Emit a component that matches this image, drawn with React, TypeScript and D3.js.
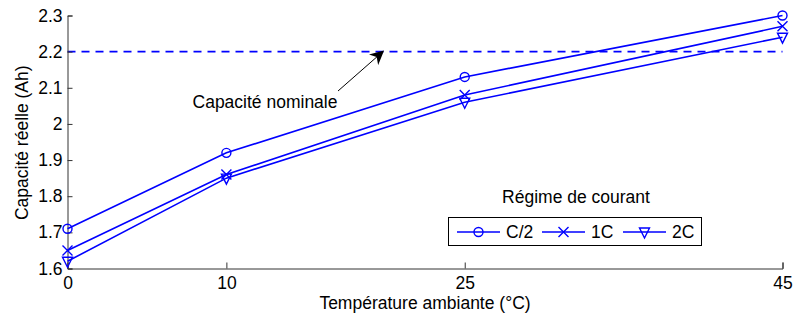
import React, { useEffect, useRef } from "react";
import * as d3 from "d3";

const temps = [0, 10, 25, 45];
const seriesNames = ["C/2", "1C", "2C"];
const valuesC2 = [1.71, 1.92, 2.13, 2.3];
const values1C = [1.65, 1.86, 2.08, 2.27];
const values2C = [1.62, 1.85, 2.06, 2.24];
const yTicks = [1.6, 1.7, 1.8, 1.9, 2, 2.1, 2.2, 2.3];
const nominal = 2.2;

const W = 793, H = 316;
const BLUE = "#0000ff";
const FONT = "Liberation Sans, Arial, sans-serif";
const FS = 17.5;

function drawMarker(g: any, kind: string, cx: number, cy: number) {
  if (kind === "C/2") {
    g.append("circle").attr("cx", cx).attr("cy", cy).attr("r", 4.5)
      .attr("fill", "none").attr("stroke", BLUE).attr("stroke-width", 1.4);
  } else if (kind === "1C") {
    const s = 5;
    g.append("path").attr("d", `M${cx - s},${cy - s}L${cx + s},${cy + s}M${cx - s},${cy + s}L${cx + s},${cy - s}`)
      .attr("stroke", BLUE).attr("stroke-width", 1.4);
  } else {
    const s = 5;
    g.append("path").attr("d", `M${cx - s},${cy - s + 1}L${cx + s},${cy - s + 1}L${cx},${cy + s + 1}Z`)
      .attr("fill", "none").attr("stroke", BLUE).attr("stroke-width", 1.4);
  }
}

const App = () => {
  const ref = useRef<SVGSVGElement>(null);

  useEffect(() => {
    const svg = d3.select(ref.current);
    svg.selectAll("*").remove();

    const x = d3.scaleLinear().domain([0, 45]).range([67.5, 782.5]);
    const y = d3.scaleLinear().domain([1.6, 2.3]).range([268.5, 15.5]);

    // nominal dashed line
    svg.append("line")
      .attr("x1", x(0)).attr("x2", x(45))
      .attr("y1", y(nominal)).attr("y2", y(nominal))
      .attr("stroke", BLUE).attr("stroke-width", 1.8)
      .attr("stroke-dasharray", "8,6");

    // axes
    const axisColor = "#333";
    const yAxis = svg.append("g").attr("transform", `translate(${x(0)},0)`)
      .call(d3.axisLeft(y).tickValues(yTicks).tickSize(-5).tickPadding(5)
        .tickFormat((d: any) => String(+(+d).toFixed(1))));
    const xAxis = svg.append("g").attr("transform", `translate(0,${y(1.6)})`)
      .call(d3.axisBottom(x).tickValues(temps).tickSize(-6).tickPadding(8)
        .tickFormat(d3.format("d")));
    [xAxis, yAxis].forEach((a) => {
      a.select(".domain").attr("stroke", axisColor).attr("stroke-width", 1);
      a.selectAll(".tick line").attr("stroke", axisColor);
      a.selectAll("text").attr("font-family", FONT).attr("font-size", FS).attr("fill", "#000");
    });

    // series
    const all = [valuesC2, values1C, values2C];
    const line = d3.line<number>().x((_, i) => x(temps[i])).y((d) => y(d));
    all.forEach((vals, si) => {
      svg.append("path").datum(vals).attr("d", line)
        .attr("fill", "none").attr("stroke", BLUE).attr("stroke-width", 1.6);
      const g = svg.append("g");
      vals.forEach((v, i) => drawMarker(g, seriesNames[si], x(temps[i]), y(v)));
    });

    // annotation arrow
    svg.append("defs").append("marker")
      .attr("id", "arrowhead").attr("viewBox", "0 0 10 10")
      .attr("refX", 9).attr("refY", 5)
      .attr("markerWidth", 14).attr("markerHeight", 14)
      .attr("markerUnits", "userSpaceOnUse")
      .attr("orient", "auto")
      .append("path").attr("d", "M0,0L10,5L0,10L3,5Z").attr("fill", "#000");
    svg.append("line")
      .attr("x1", 338).attr("y1", 91)
      .attr("x2", 383).attr("y2", 51.5)
      .attr("stroke", "#000").attr("stroke-width", 1)
      .attr("marker-end", "url(#arrowhead)");
    svg.append("text").attr("x", 265).attr("y", 108)
      .attr("text-anchor", "middle").attr("font-family", FONT).attr("font-size", FS)
      .text("Capacité nominale");

    // axis labels
    svg.append("text").attr("x", 425).attr("y", 309)
      .attr("text-anchor", "middle").attr("font-family", FONT).attr("font-size", FS)
      .text("Température ambiante (°C)");
    svg.append("text")
      .attr("transform", `translate(28,${(15.5 + 268) / 2 + 1}) rotate(-90)`)
      .attr("text-anchor", "middle").attr("font-family", FONT).attr("font-size", FS)
      .text("Capacité réelle (Ah)");

    // legend
    svg.append("text").attr("x", 576).attr("y", 203)
      .attr("text-anchor", "middle").attr("font-family", FONT).attr("font-size", FS)
      .text("Régime de courant");
    svg.append("rect").attr("x", 448.5).attr("y", 217.5).attr("width", 253).attr("height", 28)
      .attr("fill", "#fff").attr("stroke", "#000").attr("stroke-width", 1);
    const legX = [457, 542, 623];
    const lg = svg.append("g");
    seriesNames.forEach((name, i) => {
      const lx = legX[i];
      lg.append("line").attr("x1", lx).attr("x2", lx + 43).attr("y1", 232).attr("y2", 232)
        .attr("stroke", BLUE).attr("stroke-width", 1.6);
      drawMarker(lg, name, lx + 21.5, 232);
      lg.append("text").attr("x", lx + 49).attr("y", 238)
        .attr("font-family", FONT).attr("font-size", FS).text(name);
    });
  }, []);

  return (
    <svg ref={ref} width={W} height={H}
      style={{ position: "absolute", left: 0, top: 0, background: "#fff" }} />
  );
};

export default App;
